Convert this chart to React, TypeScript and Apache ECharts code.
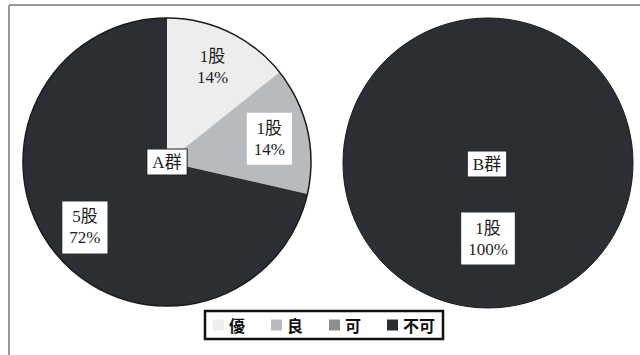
import React, { useEffect, useRef } from "react";
import * as echarts from "echarts";

const categories = ["優", "良", "可", "不可"];
const groupA = [1, 1, 0, 5];
const groupAPct = [14, 14, 0, 72];
const groupB = [0, 0, 0, 1];
const groupBPct = [0, 0, 0, 100];
const groupNames = ["A群", "B群"];

const colors = ["#ededed", "#b7bbbe", "#8c8e90", "#2b2e32"];
const serif = "'Liberation Serif', 'Noto Sans CJK SC', serif";

const CA = [167, 162];
const RA = 144;
const CB = [488, 163];
const RB = 145;

function buildData(values: number[], pcts: number[]) {
  return categories.map((name, i) => ({
    name,
    value: values[i],
    itemStyle: { color: colors[i] },
    label: {
      show: values[i] > 0,
      backgroundColor: i === 0 ? "transparent" : "#ffffff",
    },
    _pct: pcts[i],
  }));
}

export default function App() {
  const ref = useRef<HTMLDivElement>(null);
  useEffect(() => {
    if (!ref.current) return;
    const chart = echarts.init(ref.current, null, { renderer: "svg" });
    const labelCommon = {
      position: "inside",
      fontFamily: serif,
      fontSize: 17,
      lineHeight: 21,
      color: "#1e1e1e",
      padding: [5, 7, 5, 7],
      backgroundColor: "#ffffff",
    };
    const pctA = groupAPct;
    const pctB = groupBPct;
    chart.setOption({
      animation: false,
      backgroundColor: "#ffffff",
      legend: {
        data: categories,
        left: 205,
        top: 311,
        orient: "horizontal",
        icon: "rect",
        itemWidth: 11,
        itemHeight: 11,
        itemGap: 26,
        padding: [6, 8, 6, 8],
        borderColor: "#111111",
        borderWidth: 2.5,
        textStyle: {
          fontFamily: "'Noto Sans CJK SC', sans-serif",
          fontSize: 16,
          fontWeight: "bold",
          color: "#111111",
        },
      },
      graphic: [
        { type: "line", shape: { x1: 9, y1: 5, x2: 640, y2: 5 }, style: { stroke: "#9a9a9a", lineWidth: 2 } },
        { type: "line", shape: { x1: 9, y1: 5, x2: 9, y2: 355 }, style: { stroke: "#9a9a9a", lineWidth: 2 } },
        {
          type: "text",
          x: CA[0],
          y: CA[1],
          z: 100,
          style: {
            text: groupNames[0],
            align: "center",
            verticalAlign: "middle",
            fontFamily: serif,
            fontSize: 17,
            fill: "#1e1e1e",
            backgroundColor: "#ffffff",
            borderColor: "#222222",
            borderWidth: 1,
            padding: [4, 5, 4, 5],
          },
        },
        {
          type: "text",
          x: CB[0] - 1,
          y: CB[1] + 1,
          z: 100,
          style: {
            text: groupNames[1],
            align: "center",
            verticalAlign: "middle",
            fontFamily: serif,
            fontSize: 17,
            fill: "#1e1e1e",
            backgroundColor: "#ffffff",
            borderColor: "#222222",
            borderWidth: 1,
            padding: [4, 5, 4, 5],
          },
        },
      ],
      series: [
        {
          type: "pie",
          name: groupNames[0],
          center: CA,
          radius: RA,
          startAngle: 90,
          clockwise: true,
          label: {
            ...labelCommon,
            formatter: (p: any) => `${p.value}股\n${pctA[p.dataIndex]}%`,
          },
          labelLine: { show: false },
          labelLayout: (params: any) => {
            const r = params.labelRect;
            const lx = r.x + r.width / 2;
            const ly = r.y + r.height / 2;
            return {
              x: CA[0] + (lx - CA[0]) * 1.4,
              y: CA[1] + (ly - CA[1]) * 1.4,
              align: "center",
              verticalAlign: "middle",
            };
          },
          emphasis: { disabled: true },
          data: buildData(groupA, groupAPct),
        },
        {
          type: "pie",
          name: groupNames[1],
          center: CB,
          radius: RB,
          startAngle: 90,
          clockwise: true,
          label: {
            ...labelCommon,
            formatter: (p: any) => `${p.value}股\n${pctB[p.dataIndex]}%`,
          },
          labelLine: { show: false },
          emphasis: { disabled: true },
          data: buildData(groupB, groupBPct),
        },
        {
          type: "pie",
          center: CA,
          radius: RA,
          silent: true,
          label: { show: false },
          labelLine: { show: false },
          itemStyle: { color: "none", borderColor: "#1a1a1a", borderWidth: 1.5 },
          data: [{ value: 1, name: "outlineA" }],
          z: 3,
        },
        {
          type: "pie",
          center: CB,
          radius: RB,
          silent: true,
          label: { show: false },
          labelLine: { show: false },
          itemStyle: { color: "none", borderColor: "#1a1a1a", borderWidth: 1 },
          data: [{ value: 1, name: "outlineB" }],
          z: 3,
        },
      ],
    });
    return () => chart.dispose();
  }, []);
  return (
    <div
      ref={ref}
      style={{ position: "fixed", left: 0, top: 0, width: 640, height: 355 }}
    />
  );
}
